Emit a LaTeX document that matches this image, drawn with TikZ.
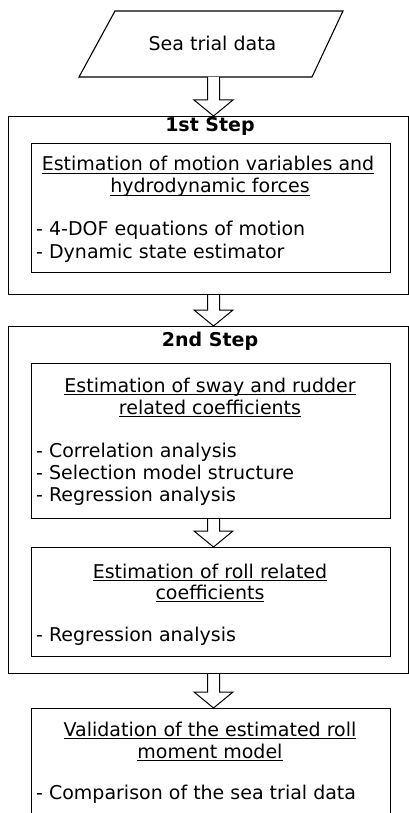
\documentclass[tikz,border=0pt]{standalone}
\usepackage{fontspec}
\setmainfont{DejaVu Sans}
\usetikzlibrary{calc}
\newcommand\myul[1]{\setbox0\hbox{#1}\rlap{\rule[-2.8pt]{\wd0}{1.1pt}}\box0}
\newcommand\blockarr[2]{%
  \draw[arr] let \p1=(#1), \p2=(#2) in
    (\x1-6pt,\y1) -- (\x1-6pt,\y2+16pt) -- (\x1-19.5pt,\y2+16pt) -- (\x1,\y2)
    -- (\x1+19.5pt,\y2+16pt) -- (\x1+6pt,\y2+16pt) -- (\x1+6pt,\y1);}
\tikzset{
  frame/.style={draw, line width=1.1pt, inner sep=0, anchor=north west},
  txt/.style={font=\fontsize{19}{22.5}\selectfont, inner sep=0},
  boldtxt/.style={font=\fontsize{19}{22.5}\selectfont\bfseries, inner sep=0, anchor=base},
  titletxt/.style={txt, anchor=base},
  listtxt/.style={txt, anchor=base west},
  arr/.style={draw, line width=1pt, fill=white, line join=miter},
}
\begin{document}
\begin{tikzpicture}[x=1pt,y=1pt]
\useasboundingbox (0,0) rectangle (409,-813);
% input parallelogram
\draw[line width=1.1pt] (115,-11) -- (343,-11) -- (312,-77) -- (79,-77) -- cycle;
\node[txt, anchor=base] (sea) at (212.5,-51) {Sea trial data};
\coordinate (seab) at (213.5,-77);

% 1st step
\node[frame, minimum width=400pt, minimum height=178pt] (s1) at (7.5,-116) {};
\node[boldtxt] (s1t) at (210,-132) {1st Step};
\node[frame, minimum width=359pt, minimum height=129pt] (b1) at (31,-143) {};
\node[titletxt] (b1t1) at (208,-171) {\myul{Estimation of motion variables and}};
\node[titletxt] (b1t2) at (210,-193) {\myul{hydrodynamic forces}};
\node[listtxt] (b1l1) at (36,-235) {- 4-DOF equations of motion};
\node[listtxt] (b1l2) at (36,-258) {- Dynamic state estimator};

% 2nd step
\node[frame, minimum width=400pt, minimum height=347pt] (s2) at (7.5,-326) {};
\node[boldtxt] (s2t) at (210,-346) {2nd Step};
\node[frame, minimum width=359pt, minimum height=155pt] (b2) at (31,-363) {};
\node[titletxt] (b2t1) at (210,-392) {\myul{Estimation of sway and rudder}};
\node[titletxt] (b2t2) at (210,-414) {\myul{related coefficients}};
\node[listtxt] (b2l1) at (36,-457) {- Correlation analysis};
\node[listtxt] (b2l2) at (36,-479) {- Selection model structure};
\node[listtxt] (b2l3) at (36,-501) {- Regression analysis};
\node[frame, minimum width=359pt, minimum height=109pt] (b3) at (31,-547) {};
\node[titletxt] (b3t1) at (210,-578) {\myul{Estimation of roll related}};
\node[titletxt] (b3t2) at (210,-599) {\myul{coefficients}};
\node[listtxt] (b3l1) at (36,-641) {- Regression analysis};

% validation (cut off at the bottom)
\begin{scope}
\clip (0,0) rectangle (409,-813);
\node[frame, minimum width=359pt, minimum height=130pt] (b4) at (31,-708) {};
\end{scope}
\node[titletxt] (b4t1) at (210,-736) {\myul{Validation of the estimated roll}};
\node[titletxt] (b4t2) at (210,-758) {\myul{moment model}};
\node[listtxt] (b4l1) at (36,-799) {- Comparison of the sea trial data};

% block arrows
\coordinate (ax) at (213.5,0);
\blockarr{seab}{s1.north -| ax}
\blockarr{s1.south -| ax}{s2.north -| ax}
\blockarr{b2.south -| ax}{b3.north -| ax}
\blockarr{s2.south -| ax}{b4.north -| ax}
\end{tikzpicture}
\end{document}
